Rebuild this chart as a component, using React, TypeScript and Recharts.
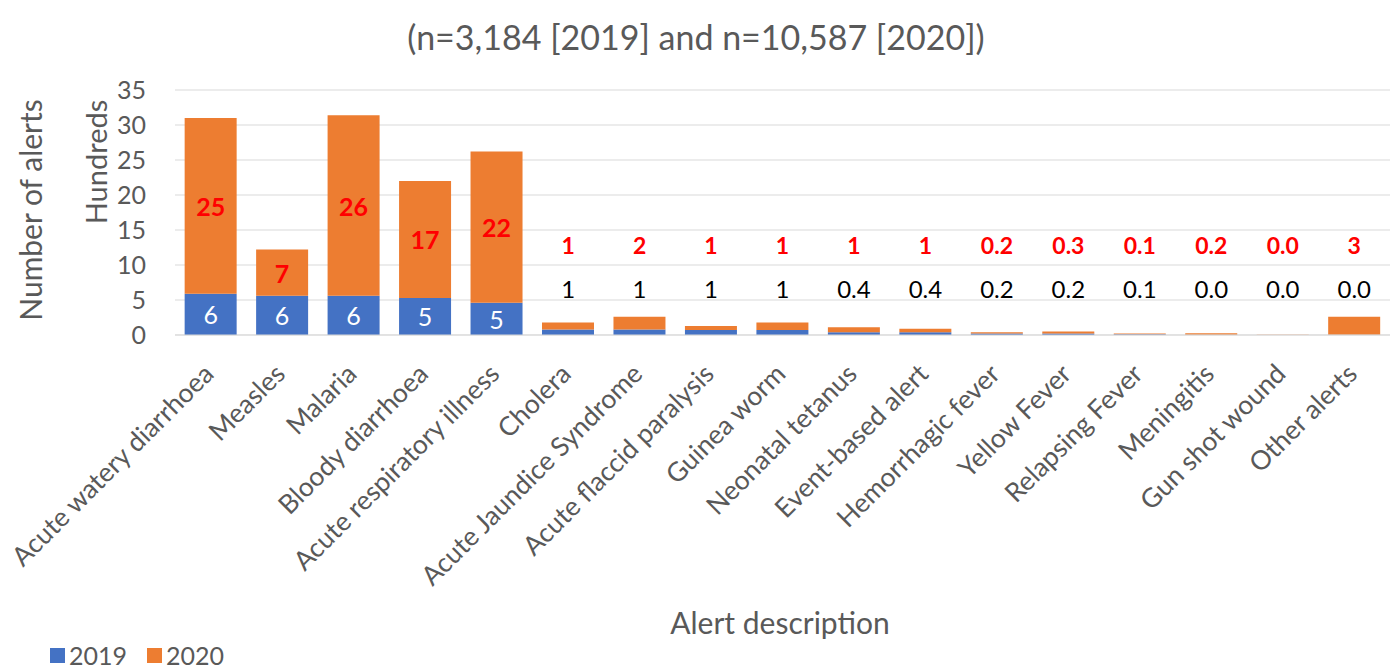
import { Bar, BarChart, CartesianGrid, LabelList, ReferenceDot, XAxis, YAxis } from 'recharts';

const categories = [
  'Acute watery diarrhoea',
  'Measles',
  'Malaria',
  'Bloody diarrhoea',
  'Acute respiratory illness',
  'Cholera',
  'Acute Jaundice Syndrome',
  'Acute flaccid paralysis',
  'Guinea worm',
  'Neonatal tetanus',
  'Event-based alert',
  'Hemorrhagic fever',
  'Yellow Fever',
  'Relapsing Fever',
  'Meningitis',
  'Gun shot wound',
  'Other alerts',
];

// hundreds of alerts
const alerts2019 = [5.9, 5.6, 5.6, 5.3, 4.6, 0.8, 0.8, 0.7, 0.7, 0.4, 0.4, 0.2, 0.2, 0.1, 0.04, 0.01, 0.02];
const alerts2020 = [25.1, 6.6, 25.8, 16.7, 21.6, 1.0, 1.8, 0.6, 1.1, 0.7, 0.5, 0.2, 0.3, 0.1, 0.2, 0.04, 2.6];

const yTicks = [0, 5, 10, 15, 20, 25, 30, 35];

const data = categories.map((name, i) => ({ name, y2019: alerts2019[i], y2020: alerts2020[i] }));

const BIG = 5; // first five bars carry their labels inside
const RED_LABEL_AT = 12.7;
const BLACK_LABEL_AT = 6.5;

const FONT = 'Lato, "Open Sans", sans-serif';
const GREY = '#595959';
const BLUE = '#4472C4';
const ORANGE = '#ED7D31';

const fmt = (v: number) => (v >= 0.5 ? String(Math.round(v)) : v.toFixed(1));

const CategoryTick = ({ x, y, payload }: any) => (
  <g transform={`translate(${x - 2},${y + 26})`}>
    <text textAnchor="end" transform="rotate(-45)" fontSize={26.5} fill={GREY} fontFamily={FONT} dy="0.35em">
      {payload.value}
    </text>
  </g>
);

const insideLabel = (color: string, bold: boolean) => (props: any) => {
  const { x, y, width, height, value, index } = props;
  if (index >= BIG) return null;
  return (
    <text
      x={x + width / 2}
      y={y + height / 2}
      textAnchor="middle"
      dominantBaseline="central"
      fill={color}
      fontSize={25}
      fontWeight={bold ? 700 : 400}
      fontFamily={FONT}
    >
      {fmt(value)}
    </text>
  );
};

export default function App() {
  return (
    <div style={{ position: 'absolute', left: 0, top: 0, width: 1392, height: 668, background: '#fff', fontFamily: FONT }}>
      <div style={{ position: 'absolute', top: 16, left: 0, width: 1392, textAlign: 'center', fontSize: 34, color: GREY }}>
        (n=3,184 [2019] and n=10,587 [2020])
      </div>
      <BarChart
        width={1392}
        height={668}
        data={data}
        margin={{ top: 90, right: 2, bottom: 0, left: 0 }}
        barCategoryGap="13.5%"
      >
        <CartesianGrid vertical={false} stroke="#d9d9d9" />
        <XAxis
          dataKey="name"
          interval={0}
          height={333}
          tick={<CategoryTick />}
          tickLine={false}
          axisLine={{ stroke: '#d9d9d9' }}
        />
        <YAxis
          domain={[0, 35]}
          ticks={yTicks}
          width={175}
          axisLine={false}
          tickLine={false}
          tickMargin={23}
          tick={{ fontSize: 25, fill: GREY, fontFamily: FONT }}
        />
        <Bar dataKey="y2019" stackId="a" fill={BLUE} isAnimationActive={false}>
          <LabelList dataKey="y2019" content={insideLabel('#ffffff', false)} />
        </Bar>
        <Bar dataKey="y2020" stackId="a" fill={ORANGE} isAnimationActive={false}>
          <LabelList dataKey="y2020" content={insideLabel('#ff0000', true)} />
        </Bar>
        {data.slice(BIG).map((d) => (
          <ReferenceDot
            key={`r-${d.name}`}
            x={d.name}
            y={RED_LABEL_AT}
            r={0}
            stroke="none"
            label={{ value: fmt(d.y2020), position: 'center', fill: '#ff0000', fontSize: 23, fontWeight: 700, fontFamily: FONT }}
          />
        ))}
        {data.slice(BIG).map((d) => (
          <ReferenceDot
            key={`b-${d.name}`}
            x={d.name}
            y={BLACK_LABEL_AT}
            r={0}
            stroke="none"
            label={{ value: fmt(d.y2019), position: 'center', fill: '#000000', fontSize: 24, fontFamily: FONT }}
          />
        ))}
      </BarChart>
      <div
        style={{
          position: 'absolute',
          left: 30,
          top: 210,
          transform: 'translate(-50%, -50%) rotate(-90deg)',
          fontSize: 30,
          color: GREY,
          whiteSpace: 'nowrap',
        }}
      >
        Number of alerts
      </div>
      <div
        style={{
          position: 'absolute',
          left: 95,
          top: 162,
          transform: 'translate(-50%, -50%) rotate(-90deg)',
          fontSize: 29,
          color: GREY,
          whiteSpace: 'nowrap',
        }}
      >
        Hundreds
      </div>
      <div style={{ position: 'absolute', left: 780, top: 622, transform: 'translate(-50%, -50%)', fontSize: 30, color: GREY, whiteSpace: 'nowrap' }}>
        Alert description
      </div>
      <div
        style={{
          position: 'absolute',
          left: 50,
          top: 644,
          height: 22,
          lineHeight: '22px',
          display: 'flex',
          alignItems: 'center',
          fontSize: 25,
          color: GREY,
        }}
      >
        <span style={{ width: 15, height: 15, background: BLUE, display: 'inline-block', marginRight: 4 }} />
        <span style={{ marginRight: 20 }}>2019</span>
        <span style={{ width: 15, height: 15, background: ORANGE, display: 'inline-block', marginRight: 4 }} />
        <span>2020</span>
      </div>
    </div>
  );
}
